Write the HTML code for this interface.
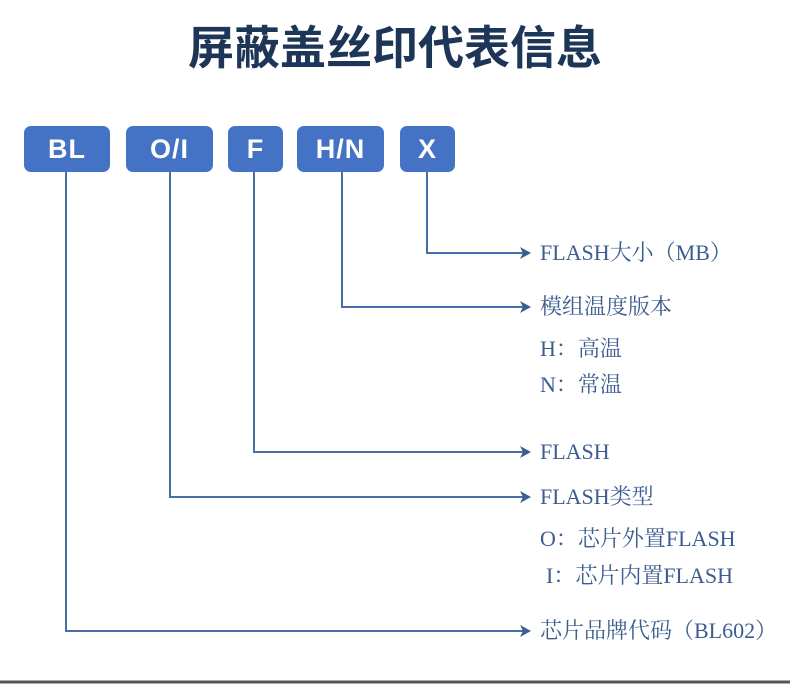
<!DOCTYPE html>
<html><head><meta charset="utf-8"><style>
body{margin:0;width:790px;height:684px;background:#fff;position:relative;overflow:hidden;font-family:"Liberation Serif","Noto Serif CJK SC",serif}
.t{position:absolute;left:0;width:790px;top:12px;text-align:center;font:bold 46px "Liberation Sans","Noto Sans CJK SC",sans-serif;color:#1d3557;letter-spacing:0px}
.b{position:absolute;top:126px;height:46px;background:#4472c4;border-radius:7px;color:#fff;font:bold 27px "Liberation Sans",sans-serif;text-align:center;line-height:46px;letter-spacing:1px}
.l{position:absolute;left:540px;font-size:22px;color:#3d5d8f;line-height:24px}
</style></head><body>
<div class="t">屏蔽盖丝印代表信息</div>
<div class="b" style="left:24px;width:86px">BL</div>
<div class="b" style="left:126px;width:87px">O/I</div>
<div class="b" style="left:228px;width:55px">F</div>
<div class="b" style="left:297px;width:87px">H/N</div>
<div class="b" style="left:400px;width:55px">X</div>
<svg width="790" height="684" style="position:absolute;left:0;top:0">
<g stroke="#4a6fa8" stroke-width="2" fill="none">
<polyline points="427,172 427,253 524,253"/>
<polyline points="342,172 342,307 524,307"/>
<polyline points="254,172 254,452 524,452"/>
<polyline points="170,172 170,497 524,497"/>
<polyline points="66,172 66,631 524,631"/>
</g>
<g fill="#3d5d8f">
<path d="M520,247 L531,253 L520,259 L523,253Z"/>
<path d="M520,301 L531,307 L520,313 L523,307Z"/>
<path d="M520,446 L531,452 L520,458 L523,452Z"/>
<path d="M520,491 L531,497 L520,503 L523,497Z"/>
<path d="M520,625 L531,631 L520,637 L523,631Z"/>
</g>
<line x1="0" y1="682" x2="790" y2="682" stroke="#555" stroke-width="3"/>
</svg>
<div class="l" style="top:241px">FLASH大小（MB）</div>
<div class="l" style="top:295px">模组温度版本</div>
<div class="l" style="top:337px">H：高温</div>
<div class="l" style="top:373px">N：常温</div>
<div class="l" style="top:440px">FLASH</div>
<div class="l" style="top:485px">FLASH类型</div>
<div class="l" style="top:527px">O：芯片外置FLASH</div>
<div class="l" style="top:564px;left:546px">I：芯片内置FLASH</div>
<div class="l" style="top:619px">芯片品牌代码（BL602）</div>
</body></html>
